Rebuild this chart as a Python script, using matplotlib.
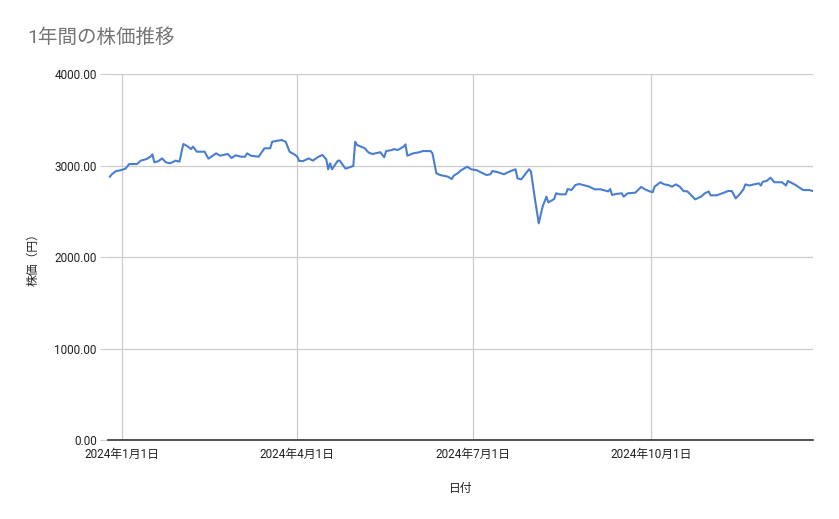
import numpy as np
import pandas as pd
import matplotlib
matplotlib.use("Agg")
import matplotlib.pyplot as plt
import matplotlib.dates as mdates

plt.rcParams['font.family'] = ['Roboto', 'Noto Sans CJK JP', 'DejaVu Sans']

# values (date, price in yen)
dates = [
    "2023-12-26", "2023-12-27", "2023-12-29", "2024-01-01", "2024-01-03", "2024-01-05",
    "2024-01-09", "2024-01-11", "2024-01-14", "2024-01-16", "2024-01-17", "2024-01-18",
    "2024-01-20", "2024-01-22", "2024-01-24", "2024-01-26", "2024-01-28", "2024-01-29",
    "2024-01-31", "2024-02-02", "2024-02-04", "2024-02-06", "2024-02-07", "2024-02-09",
    "2024-02-13", "2024-02-15", "2024-02-19", "2024-02-21", "2024-02-25", "2024-02-27",
    "2024-02-29", "2024-03-03", "2024-03-05", "2024-03-06", "2024-03-08", "2024-03-12",
    "2024-03-15", "2024-03-18", "2024-03-19", "2024-03-21", "2024-03-24", "2024-03-25",
    "2024-03-26", "2024-03-28", "2024-03-31", "2024-04-01", "2024-04-02", "2024-04-04",
    "2024-04-07", "2024-04-09", "2024-04-12", "2024-04-14", "2024-04-16", "2024-04-17",
    "2024-04-18", "2024-04-19", "2024-04-22", "2024-04-23", "2024-04-26", "2024-04-28",
    "2024-04-30", "2024-05-01", "2024-05-02", "2024-05-06", "2024-05-08", "2024-05-10",
    "2024-05-14", "2024-05-16", "2024-05-17", "2024-05-20", "2024-05-21", "2024-05-23",
    "2024-05-26", "2024-05-27", "2024-05-28", "2024-05-31", "2024-06-03", "2024-06-05",
    "2024-06-09", "2024-06-10", "2024-06-12", "2024-06-14", "2024-06-18", "2024-06-20",
    "2024-06-21", "2024-06-23", "2024-06-25", "2024-06-28", "2024-06-30", "2024-07-03",
    "2024-07-05", "2024-07-08", "2024-07-10", "2024-07-11", "2024-07-14", "2024-07-17",
    "2024-07-18", "2024-07-20", "2024-07-23", "2024-07-24", "2024-07-26", "2024-07-30",
    "2024-07-31", "2024-08-02", "2024-08-04", "2024-08-06", "2024-08-08", "2024-08-09",
    "2024-08-12", "2024-08-13", "2024-08-15", "2024-08-18", "2024-08-19", "2024-08-21",
    "2024-08-23", "2024-08-25", "2024-08-28", "2024-08-30", "2024-09-02", "2024-09-05",
    "2024-09-09", "2024-09-10", "2024-09-11", "2024-09-13", "2024-09-16", "2024-09-17",
    "2024-09-19", "2024-09-23", "2024-09-26", "2024-09-28", "2024-09-30", "2024-10-02",
    "2024-10-03", "2024-10-06", "2024-10-08", "2024-10-10", "2024-10-12", "2024-10-14",
    "2024-10-16", "2024-10-18", "2024-10-20", "2024-10-24", "2024-10-27", "2024-10-29",
    "2024-10-31", "2024-11-01", "2024-11-04", "2024-11-07", "2024-11-10", "2024-11-12",
    "2024-11-14", "2024-11-16", "2024-11-18", "2024-11-19", "2024-11-21", "2024-11-22",
    "2024-11-26", "2024-11-27", "2024-11-28", "2024-11-30", "2024-12-02", "2024-12-04",
    "2024-12-08", "2024-12-10", "2024-12-11", "2024-12-15", "2024-12-17", "2024-12-19",
    "2024-12-22", "2024-12-24",
]
prices = [
    2878, 2904, 2937, 2951, 2965, 3016,
    3016, 3053, 3071, 3096, 3122, 3035,
    3046, 3078, 3035, 3024, 3042, 3053,
    3042, 3235, 3213, 3180, 3206, 3151,
    3151, 3075, 3133, 3107, 3126, 3082,
    3111, 3096, 3096, 3133, 3107, 3096,
    3188, 3188, 3260, 3268, 3279, 3268,
    3260, 3151, 3115, 3096, 3049, 3049,
    3078, 3053, 3096, 3115, 3068, 2959,
    3024, 2959, 3053, 3053, 2965, 2980,
    2995, 3260, 3224, 3188, 3140, 3126,
    3145, 3090, 3158, 3169, 3180, 3169,
    3206, 3231, 3107, 3133, 3144, 3158,
    3158, 3133, 2915, 2896, 2878, 2852,
    2889, 2915, 2951, 2987, 2959, 2948,
    2926, 2896, 2904, 2940, 2926, 2904,
    2915, 2935, 2959, 2860, 2849, 2959,
    2933, 2641, 2368, 2550, 2659, 2597,
    2634, 2696, 2685, 2685, 2743, 2732,
    2787, 2798, 2781, 2770, 2740, 2740,
    2717, 2743, 2678, 2689, 2696, 2659,
    2696, 2703, 2765, 2740, 2721, 2707,
    2769, 2817, 2794, 2787, 2769, 2794,
    2769, 2721, 2717, 2630, 2659, 2696,
    2717, 2674, 2674, 2696, 2721, 2721,
    2641, 2685, 2740, 2794, 2781, 2787,
    2805, 2781, 2823, 2831, 2867, 2817,
    2817, 2781, 2831, 2787, 2757, 2732,
    2732, 2721,
]
x_ticks = ["2024-01-01", "2024-04-01", "2024-07-01", "2024-10-01"]
x_tick_labels = ["2024年1月1日", "2024年4月1日", "2024年7月1日", "2024年10月1日"]
y_ticks = [0, 1000, 2000, 3000, 4000]

d = pd.to_datetime(dates)

fig = plt.figure(figsize=(8.39, 5.19), dpi=100)
ax = fig.add_axes([0.1287, 0.1522, 0.8403, 0.7052])

ax.plot(d, prices, color="#4a7fcf", lw=1.5, solid_joinstyle="round")

ax.set_xlim(pd.Timestamp("2023-12-25"), d[-1])
ax.set_ylim(0, 4000)
ax.set_yticks(y_ticks)
ax.set_yticklabels([f"{v:.2f}" for v in y_ticks])
ax.set_xticks(pd.to_datetime(x_ticks))
ax.set_xticklabels(x_tick_labels)

ax.grid(True, color="#cccccc", lw=0.9)
ax.set_axisbelow(True)
for s in ["top", "right", "left"]:
    ax.spines[s].set_visible(False)
ax.spines["bottom"].set_color("#333333")
ax.spines["bottom"].set_linewidth(1.2)
ax.tick_params(axis="y", length=6, color="#cccccc", labelsize=8.5, pad=2, labelcolor="#222222")
ax.tick_params(axis="x", length=0, labelsize=8.5, pad=6, labelcolor="#222222")

ax.set_xlabel("日付", fontsize=8.5, color="#222222", labelpad=15)
ax.set_ylabel("株価（円）", fontsize=8.5, color="#222222", labelpad=11)

fig.text(0.032, 0.928, "1年間の株価推移", fontsize=14, color="#757575", va="center", ha="left")

fig.savefig("out.png", dpi=100, facecolor="white")
